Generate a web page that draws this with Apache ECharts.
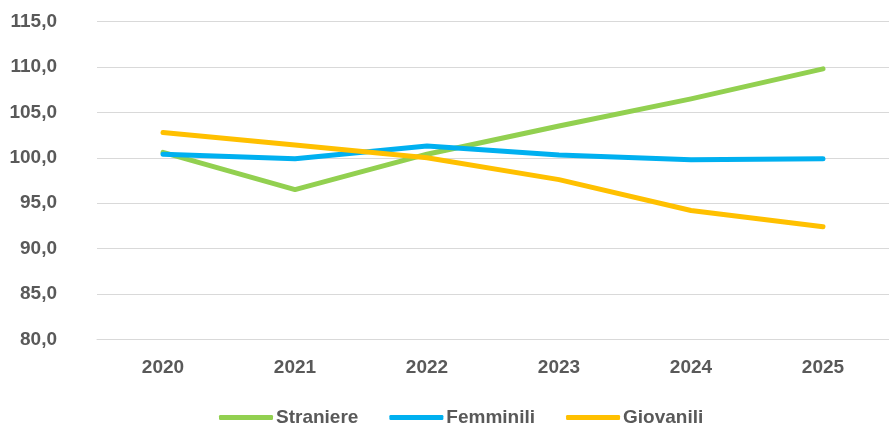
<!DOCTYPE html>
<html lang="it">
<head>
    <meta charset="UTF-8"/>
    <title>indici</title>
    <script src="https://cdn.jsdelivr.net/npm/echarts@6/dist/echarts.min.js"></script>
    <style>
        html, body { margin: 0; padding: 0; background: #fff; }
    </style>
</head>
<body>
<div id="main" style="width: 889px;height:425px;"></div>
<script type="text/javascript">
    // dati
    var anni = ['2020', '2021', '2022', '2023', '2024', '2025'];
    var straniere = [100.6, 96.5, 100.4, 103.5, 106.5, 109.8];
    var femminili = [100.4, 99.9, 101.3, 100.3, 99.8, 99.9];
    var giovanili = [102.8, 101.4, 100.0, 97.6, 94.2, 92.4];

    var font = '"Liberation Sans Narrow", "Arial Narrow", "Liberation Sans", Arial, sans-serif';
    var testo = '#595959';

    var myChart = echarts.init(document.getElementById('main'));

    function serie(nome, dati, colore) {
        return {
            name: nome,
            type: 'line',
            data: dati,
            symbol: 'none',
            smooth: false,
            lineStyle: { width: 5, color: colore, cap: 'round', join: 'round' },
            itemStyle: { color: colore }
        };
    }

    var option = {
        animation: false,
        grid: { left: 97, right: -3, top: 21.7, bottom: 85.7 },
        legend: {
            top: 403,
            left: 214,
            icon: 'roundRect',
            itemWidth: 54,
            itemHeight: 5,
            itemGap: 31,
            textStyle: { color: testo, fontFamily: font, fontWeight: 'bold', fontSize: 19, padding: [0, 0, 0, -2] },
            data: ['Straniere', 'Femminili', 'Giovanili']
        },
        xAxis: {
            type: 'category',
            data: anni,
            boundaryGap: true,
            axisLine: { lineStyle: { color: '#d9d9d9', width: 1 } },
            axisTick: { show: false },
            axisLabel: { color: testo, fontFamily: font, fontWeight: 'bold', fontSize: 19, margin: 19 }
        },
        yAxis: {
            type: 'value',
            min: 80,
            max: 115,
            interval: 5,
            axisLine: { show: false },
            axisTick: { show: false },
            splitLine: { lineStyle: { color: '#d9d9d9', width: 1 } },
            axisLabel: {
                color: testo, fontFamily: font, fontWeight: 'bold', fontSize: 19, margin: 40,
                formatter: function (v) { return v.toFixed(1).replace('.', ','); }
            }
        },
        series: [
            serie('Straniere', straniere, '#92D050'),
            serie('Femminili', femminili, '#00B0F0'),
            serie('Giovanili', giovanili, '#FFC000')
        ]
    };
    myChart.setOption(option);
</script>
</body>
</html>
